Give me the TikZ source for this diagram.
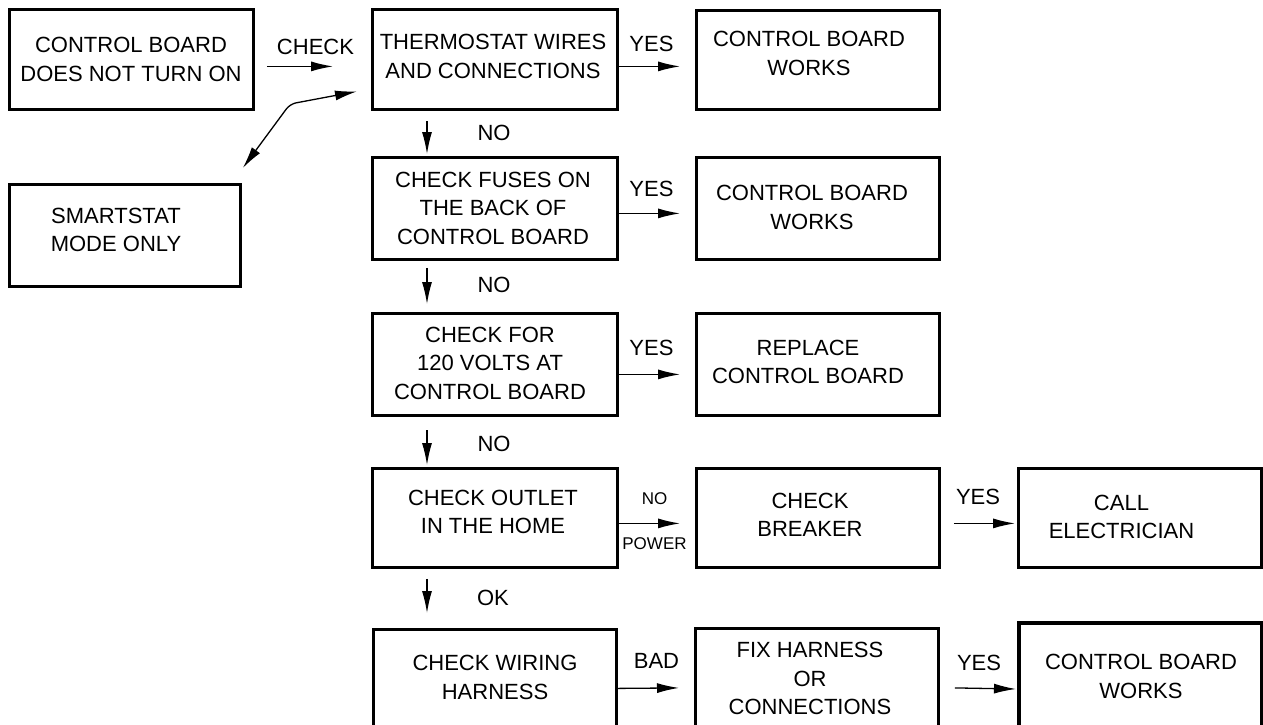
\documentclass[tikz,border=0pt]{standalone}
\usepackage{fontspec}
\setmainfont{Liberation Sans}
\usetikzlibrary{arrows.meta,calc}
\begin{document}
\begin{tikzpicture}[x=1pt,y=-1pt,
  box/.style={draw,line width=2.8pt,inner sep=0pt,anchor=north west},
  txt/.style={align=center,font=\fontsize{22}{28.5}\selectfont,inner sep=0pt},
  lab/.style={font=\fontsize{22}{26}\selectfont,inner sep=0pt},
  small/.style={font=\fontsize{17}{20}\selectfont,inner sep=0pt},
  tip/.tip={Latex[length=22pt,width=10pt]},
  arr/.style={line width=1.3pt,-tip},
  darr/.style={line width=1.3pt,tip-tip,rounded corners=6pt}]
\useasboundingbox (0,0) rectangle (1263,724);
\fill[white] (0,0) rectangle (1263,724);
\clip (0,0) rectangle (1263,724);

% boxes
\node[box,minimum width=244pt,minimum height=100pt] (b1) at (8,8) {};
\node[box,minimum width=245pt,minimum height=100pt] (b2) at (371,8) {};
\node[box,minimum width=243pt,minimum height=99pt] (b3) at (695,9) {};
\node[box,minimum width=231pt,minimum height=102pt] (bs) at (8,183) {};
\node[box,minimum width=245pt,minimum height=102pt] (b4) at (371,156) {};
\node[box,minimum width=243pt,minimum height=102pt] (b5) at (695,156) {};
\node[box,minimum width=245pt,minimum height=102pt] (b6) at (371,312) {};
\node[box,minimum width=243pt,minimum height=102pt] (b7) at (695,312) {};
\node[box,minimum width=245pt,minimum height=99pt] (b8) at (371,467) {};
\node[box,minimum width=243pt,minimum height=99pt] (b9) at (695,467) {};
\node[box,minimum width=243pt,minimum height=99pt] (b10) at (1017,467) {};
\node[box,minimum width=243pt,minimum height=120pt] (b11) at (372,628) {};
\node[box,minimum width=243pt,minimum height=120pt] (b12) at (694,627) {};
\node[box,line width=4pt,minimum width=243pt,minimum height=127pt] (b13) at (1017,621) {};

% box texts
\node[txt] (t1) at (131,59.5) {CONTROL BOARD\\DOES NOT TURN ON};
\node[txt] (t2) at (493,56.5) {THERMOSTAT WIRES\\AND CONNECTIONS};
\node[txt] (t3) at (809,53.5) {CONTROL BOARD\\WORKS};
\node[txt] (ts) at (116,230) {SMARTSTAT\\MODE ONLY};
\node[txt] (t4) at (493,208) {CHECK FUSES ON\\THE BACK OF\\CONTROL BOARD};
\node[txt] (t5) at (812,207.5) {CONTROL BOARD\\WORKS};
\node[txt] (t6) at (490,363) {CHECK FOR\\120 VOLTS AT\\CONTROL BOARD};
\node[txt] (t7) at (808,362) {REPLACE\\CONTROL BOARD};
\node[txt] (t8) at (493,512) {CHECK OUTLET\\IN THE HOME};
\node[txt] (t9) at (810,515) {CHECK\\BREAKER};
\node[txt] (t10) at (1121.5,517) {CALL\\ELECTRICIAN};
\node[txt] (t11) at (495,677.5) {CHECK WIRING\\HARNESS};
\node[txt] (t12) at (810,678.5) {FIX HARNESS\\OR\\CONNECTIONS};
\node[txt] (t13) at (1141,676.5) {CONTROL BOARD\\WORKS};

% connector labels
\node[lab] (lcheck) at (315.5,46.5) {CHECK};
\node[lab] (ly1) at (651.5,43.5) {YES};
\node[lab] (ly2) at (651.5,188.5) {YES};
\node[lab] (ly3) at (651.5,347.5) {YES};
\node[small] (lno4) at (654.5,498.5) {NO};
\node[small] (lpow) at (654.5,543.5) {POWER};
\node[lab] (ly4) at (978,497) {YES};
\node[lab] (lbad) at (656.5,660.5) {BAD};
\node[lab] (ly5) at (979,662.5) {YES};
\node[lab] (lno1) at (494,133) {NO};
\node[lab] (lno2) at (494,285) {NO};
\node[lab] (lno3) at (494,443.5) {NO};
\node[lab] (lok) at (493,598) {OK};

% horizontal connectors
\draw[arr] ($(b1.east)+(12,7)$) -- ($(b2.west)+(-38,7)$);
\draw[arr] ($(b2.east)+(0,7)$) -- ($(b3.west)+(-15,6.5)$);
\draw[arr] ($(b4.east)+(0,5)$) -- ($(b5.west)+(-15,5)$);
\draw[arr] ($(b6.east)+(0,10)$) -- ($(b7.west)+(-15,10)$);
\draw[arr] ($(b8.east)+(0,5.5)$) -- ($(b9.west)+(-15,5.5)$);
\draw[arr] ($(b9.east)+(13,5.5)$) -- ($(b10.west)+(-2,5.5)$);
\draw[arr] ($(b11.east)+(0,-1)$) -- ($(b12.west)+(-15,-0.5)$);
\draw[arr] ($(b12.east)+(15,-0.5)$) -- ($(b13.west)+(-1,2.5)$);

% vertical connectors
\draw[arr] ($(b2.south west)+(56,10.6)$) -- ($(b4.north west)+(56,-2)$);
\draw[arr] ($(b4.south west)+(56,7)$) -- ($(b6.north west)+(56,-8)$);
\draw[arr] ($(b6.south west)+(56,13.5)$) -- ($(b8.north west)+(56,-2)$);
\draw[arr] ($(b8.south west)+(56,10)$) -- ($(b11.north west)+(55,-15)$);

% diagonal two-headed connector
\coordinate (bend) at (290,104);
\draw[darr] ($(bs.north east)+(1,-15)$) -- (bend) -- ($(b2.west)+(-14,32)$);
\end{tikzpicture}
\end{document}
